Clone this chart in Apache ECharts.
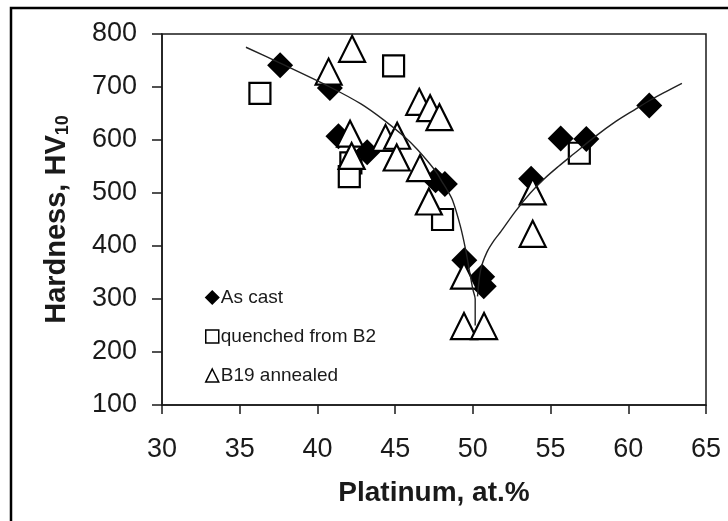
<!DOCTYPE html>
<html>
<head>
<meta charset="utf-8">
<script src="https://cdn.jsdelivr.net/npm/echarts@6/dist/echarts.min.js"></script>
<style>
html,body{margin:0;padding:0;background:#fff;}
#chart{width:728px;height:521px;}
</style>
</head>
<body>
<div id="chart"></div>
<script>
// ---- data ----
const xTicks = [30, 35, 40, 45, 50, 55, 60, 65];
const yTicks = [100, 200, 300, 400, 500, 600, 700, 800];

const asCastPt = [37.6, 40.8, 41.35, 43.2, 47.6, 48.2, 49.45, 50.6, 50.7, 53.75, 55.65, 57.3, 61.35];
const asCastHV = [741, 698, 607, 577, 524, 517, 373, 342, 324, 527, 603, 602, 665];

const quenchedPt = [36.3, 44.9, 42.15, 42.05, 48.05, 56.85];
const quenchedHV = [688, 740, 557, 531, 450, 575];

const b19Pt = [40.72, 42.23, 42.1, 42.2, 44.38, 45.13, 45.1, 46.55, 47.25, 47.85, 46.6, 47.17, 49.43, 49.43, 50.72, 53.85, 53.85];
const b19HV = [729, 772, 612, 570, 604, 608, 567, 672, 660, 643, 547, 484, 344, 249, 249, 503, 423];

const leftFitPt = [35.4, 37.6, 40.8, 42.8, 44.3, 45.6, 46.4, 47.2, 47.7, 48.0, 48.3, 48.7, 49.2, 49.55, 49.8, 50.0, 50.15, 50.15];
const leftFitHV = [775, 745, 700, 668, 637, 606, 583, 556, 537, 522, 508, 486, 437, 391, 350, 318, 300, 250];

const rightFitPt = [50.3, 50.5, 50.9, 51.4, 51.8, 52.7, 53.7, 54.6, 55.5, 56.5, 57.8, 59.2, 60.4, 61.4, 62.4, 63.45];
const rightFitHV = [305, 355, 388, 412, 427, 464, 500, 527, 550, 574, 605, 635, 657, 675, 691, 707];

const zip = (a, b) => a.map((v, i) => [v, b[i]]);

const chart = echarts.init(document.getElementById('chart'), null, {renderer: 'canvas'});
const font = '"Liberation Sans", Arial, sans-serif';
const ink = '#1a1a1a';

chart.setOption({
  animation: false,
  backgroundColor: '#fff',
  grid: {left: 162, right: 22, top: 34, bottom: 116, show: true, borderColor: ink, borderWidth: 1.5, backgroundColor: 'transparent'},
  graphic: [{
    type: 'rect', silent: true, z: 100,
    shape: {x: 11, y: 8, width: 800, height: 600},
    style: {fill: 'none', stroke: '#000', lineWidth: 2.5}
  }],
  legend: {
    orient: 'vertical', left: 200, top: 282, itemGap: 18,
    itemWidth: 13, itemHeight: 13, itemStyle: {borderWidth: 1.5},
    textStyle: {fontFamily: font, fontSize: 19, color: ink, lineHeight: 21, padding: [0, 0, 0, -3]},
    data: ['As cast', 'quenched from B2', 'B19 annealed']
  },
  xAxis: {
    type: 'value', min: 30, max: 65, interval: 5,
    name: 'Platinum, at.%', nameLocation: 'middle', nameGap: 74,
    nameTextStyle: {fontFamily: font, fontSize: 28, fontWeight: 'bold', color: ink},
    axisLine: {show: true, lineStyle: {color: ink, width: 1.5}},
    axisTick: {show: true, inside: false, length: 9, lineStyle: {color: ink, width: 1.5}},
    axisLabel: {fontFamily: font, fontSize: 27, color: ink, margin: 31,
      formatter: v => xTicks.includes(v) ? String(v) : ''},
    splitLine: {show: false}
  },
  yAxis: {
    type: 'value', min: 100, max: 800, interval: 100,
    name: 'Hardness, HV{sub|10}', nameLocation: 'middle', nameGap: 90, nameRotate: 90,
    nameTextStyle: {fontFamily: font, fontSize: 29, fontWeight: 'bold', color: ink,
      rich: {sub: {fontFamily: font, fontSize: 18, fontWeight: 'bold', color: ink, verticalAlign: 'bottom', padding: [12, 0, 0, 0]}}},
    axisLine: {show: true, lineStyle: {color: ink, width: 1.5}},
    axisTick: {show: true, inside: false, length: 10, lineStyle: {color: ink, width: 1.5}},
    axisLabel: {fontFamily: font, fontSize: 27, color: ink, margin: 25,
      formatter: v => yTicks.includes(v) ? String(v) : ''},
    splitLine: {show: false}
  },
  series: [
    {
      name: 'quenched from B2', type: 'scatter', z: 2,
      symbol: 'rect', symbolSize: 21,
      itemStyle: {color: '#fff', borderColor: '#000', borderWidth: 2.2, opacity: 1},
      data: zip(quenchedPt, quenchedHV)
    },
    {
      name: 'As cast', type: 'scatter', z: 3,
      symbol: 'diamond', symbolSize: 26,
      itemStyle: {color: '#000', borderColor: '#000', borderWidth: 0, opacity: 1},
      data: zip(asCastPt, asCastHV)
    },
    {
      name: 'B19 annealed', type: 'scatter', z: 4,
      symbol: 'triangle', symbolSize: [26, 26],
      itemStyle: {color: '#fff', borderColor: '#000', borderWidth: 2.2, opacity: 1},
      data: zip(b19Pt, b19HV)
    },
    {
      name: 'fit-left', type: 'line', z: 5, smooth: 0.3, showSymbol: false, symbol: 'none',
      lineStyle: {color: '#222', width: 1.4}, legendHoverLink: false,
      data: zip(leftFitPt, leftFitHV)
    },
    {
      name: 'fit-right', type: 'line', z: 5, smooth: 0.3, showSymbol: false, symbol: 'none',
      lineStyle: {color: '#222', width: 1.4}, legendHoverLink: false,
      data: zip(rightFitPt, rightFitHV)
    }
  ]
});
</script>
</body>
</html>
